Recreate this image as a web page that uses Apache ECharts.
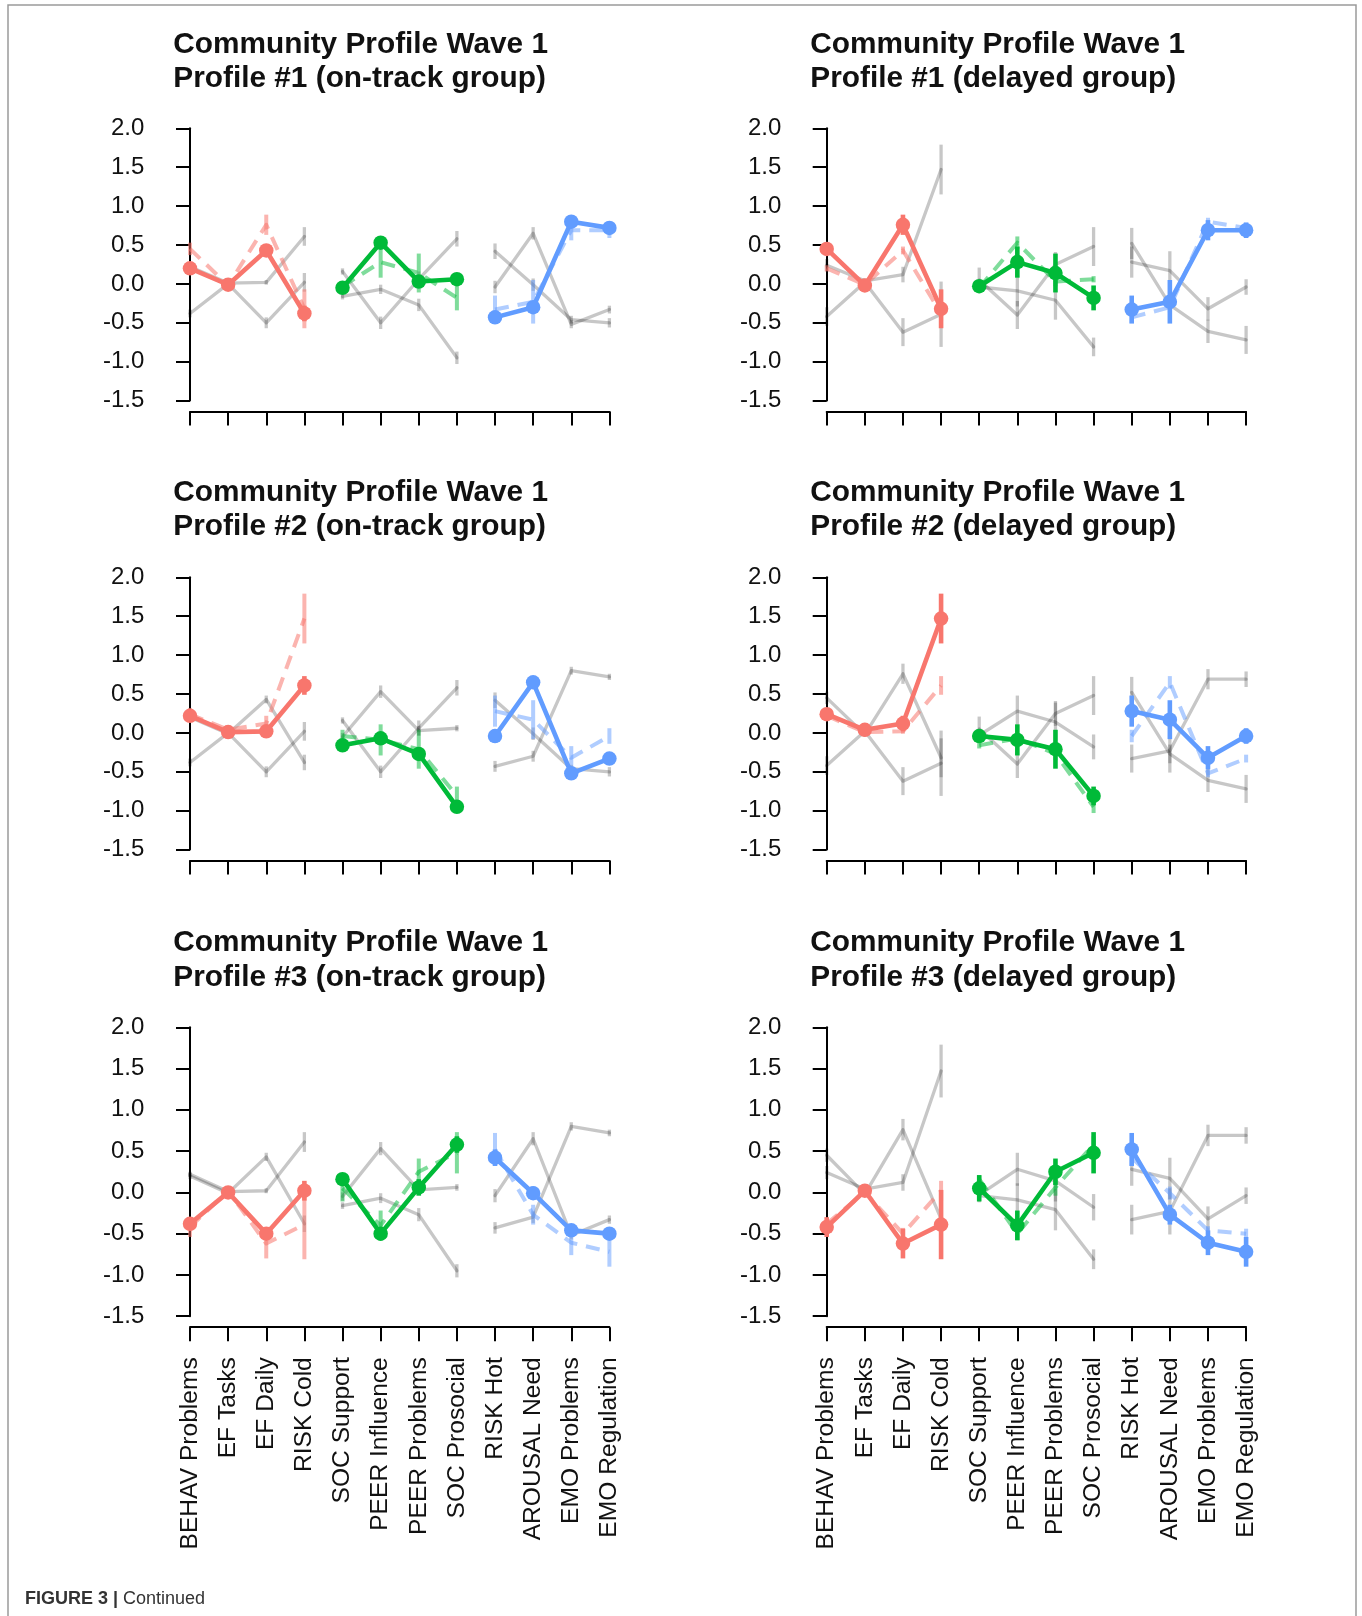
<!DOCTYPE html>
<html>
<head>
<meta charset="utf-8">
<script src="https://cdn.jsdelivr.net/npm/echarts@6/dist/echarts.min.js"></script>
<style>
html,body{margin:0;padding:0;background:#fff;}
#chart{width:1362px;height:1616px;}
</style>
</head>
<body>
<div id="chart"></div>
<script>
// ---------- data ----------
const categories = ['BEHAV Problems','EF Tasks','EF Daily','RISK Cold','SOC Support','PEER Influence','PEER Problems','SOC Prosocial','RISK Hot','AROUSAL Need','EMO Problems','EMO Regulation'];

const yTickMin = -1.5;
const yTickMax = 2.0;
const yTickStep = 0.5;

const panelTitles = [
  'Community Profile Wave 1\nProfile #1 (on-track group)',
  'Community Profile Wave 1\nProfile #1 (delayed group)',
  'Community Profile Wave 1\nProfile #2 (on-track group)',
  'Community Profile Wave 1\nProfile #2 (delayed group)',
  'Community Profile Wave 1\nProfile #3 (on-track group)',
  'Community Profile Wave 1\nProfile #3 (delayed group)'
];

// on-track group profile means and error half-widths
const onTrackP1    = [0.20, -0.01, 0.43, -0.38, -0.05, 0.53, 0.03, 0.06, -0.43, -0.30, 0.80, 0.72];
const onTrackP1Err = [0.04, 0.02, 0.05, 0.10, 0.05, 0.08, 0.06, 0.04, 0.07, 0.07, 0.05, 0.04];
const onTrackP2    = [0.22, 0.01, 0.02, 0.61, -0.16, -0.07, -0.27, -0.95, -0.04, 0.65, -0.52, -0.33];
const onTrackP2Err = [0.03, 0.02, 0.03, 0.12, 0.04, 0.06, 0.08, 0.08, 0.08, 0.08, 0.05, 0.05];
const onTrackP3    = [-0.38, 0.00, -0.50, 0.02, 0.16, -0.50, 0.06, 0.58, 0.42, -0.01, -0.46, -0.50];
const onTrackP3Err = [0.05, 0.02, 0.07, 0.12, 0.04, 0.08, 0.10, 0.10, 0.10, 0.08, 0.05, 0.06];

// delayed group profile means and error half-widths
const delayedP1    = [0.45, -0.02, 0.76, -0.32, -0.03, 0.28, 0.14, -0.18, -0.33, -0.23, 0.69, 0.69];
const delayedP1Err = [0.08, 0.03, 0.13, 0.25, 0.06, 0.20, 0.25, 0.16, 0.18, 0.28, 0.13, 0.10];
const delayedP2    = [0.24, 0.04, 0.12, 1.47, -0.04, -0.09, -0.21, -0.81, 0.28, 0.17, -0.32, -0.04];
const delayedP2Err = [0.08, 0.03, 0.10, 0.32, 0.08, 0.20, 0.25, 0.12, 0.20, 0.25, 0.15, 0.10];
const delayedP3    = [-0.42, 0.02, -0.62, -0.39, 0.05, -0.40, 0.25, 0.48, 0.52, -0.27, -0.61, -0.72];
const delayedP3Err = [0.12, 0.03, 0.18, 0.42, 0.16, 0.18, 0.16, 0.25, 0.20, 0.12, 0.15, 0.18];

// ---------- styles / layout ----------
const domainColors = ['#F8766D', '#00BA38', '#619CFF'];
const domainFaded  = ['rgba(248,118,109,0.55)', 'rgba(0,186,56,0.5)', 'rgba(97,156,255,0.5)'];
const otherColor   = 'rgba(0,0,0,0.22)';
const FONT = '"Liberation Sans", Arial, Helvetica, sans-serif';

const colLeft = [190, 826.7];
const gridW = 419.4;
const rowTop = [128.3, 577.3, 1027.3];
const rowH = [272.3, 272.3, 288.9];
const titleTop = [27.5, 475.5, 926];
const yAxisX = [172.3, 809.3];

const groups = {
  onTrack: [
    {mean: onTrackP1, err: onTrackP1Err},
    {mean: onTrackP2, err: onTrackP2Err},
    {mean: onTrackP3, err: onTrackP3Err}
  ],
  delayed: [
    {mean: delayedP1, err: delayedP1Err},
    {mean: delayedP2, err: delayedP2Err},
    {mean: delayedP3, err: delayedP3Err}
  ]
};
const panels = [['onTrack',0],['delayed',0],['onTrack',1],['delayed',1],['onTrack',2],['delayed',2]];

const grids = [], xAxes = [], yAxes = [], titles = [], series = [];

function lineSeries(k, data, color, width, type, withSymbol, z) {
  return {
    type: 'line', xAxisIndex: k, yAxisIndex: k, data: data, z: z,
    silent: true, clip: false, animation: false,
    symbol: withSymbol ? 'circle' : 'none', symbolSize: 14.5, showSymbol: withSymbol,
    itemStyle: {color: color},
    lineStyle: {color: color, width: width, type: type, cap: type === 'solid' ? 'round' : 'butt', join: 'round'},
    emphasis: {disabled: true}
  };
}
function errSeries(k, items, colors, width, z) {
  return {
    type: 'custom', xAxisIndex: k, yAxisIndex: k, data: items, z: z,
    silent: true, clip: false, animation: false,
    encode: {x: 0, y: [1, 2]},
    renderItem: function (params, api) {
      const x = api.value(0);
      const p1 = api.coord([x, api.value(1)]);
      const p2 = api.coord([x, api.value(2)]);
      const ci = api.value(3);
      return {type: 'line', shape: {x1: p1[0], y1: p1[1], x2: p2[0], y2: p2[1]},
              style: {stroke: ci < 0 ? otherColor : colors[ci], lineWidth: width, lineCap: 'butt'}};
    }
  };
}
function errItems(pr, useDomain) {
  return categories.map((_, i) => [i, pr.mean[i] - pr.err[i], pr.mean[i] + pr.err[i], useDomain ? Math.floor(i / 4) : -1]);
}

panels.forEach(([g, p], k) => {
  const r = Math.floor(k / 2), c = k % 2;
  const bottomRow = r === 2;
  grids.push({left: colLeft[c], top: rowTop[r], width: gridW, height: rowH[r]});
  titles.push({
    text: panelTitles[k], left: yAxisX[c] + 1, top: titleTop[r], padding: 0,
    textStyle: {fontSize: 29.8, fontWeight: 'bold', lineHeight: 34.5, color: '#111', fontFamily: FONT}
  });
  xAxes.push({
    type: 'value', gridIndex: k, min: 0, max: categories.length - 1, interval: 1,
    position: 'bottom', offset: 11,
    axisLine: {show: true, onZero: false, lineStyle: {color: '#000', width: 2}},
    axisTick: {show: true, length: 14, lineStyle: {color: '#000', width: 2}},
    splitLine: {show: false},
    axisLabel: {
      show: bottomRow, rotate: 90, fontSize: 24.6, color: '#111', margin: 30, fontFamily: FONT,
      showMinLabel: true, showMaxLabel: true,
      formatter: v => categories[Math.round(v)]
    }
  });
  yAxes.push({
    type: 'value', gridIndex: k, min: yTickMin, max: yTickMax, interval: yTickStep,
    position: 'left', offset: colLeft[c] - yAxisX[c],
    axisLine: {show: true, lineStyle: {color: '#000', width: 2}},
    axisTick: {show: true, length: 14, lineStyle: {color: '#000', width: 2}},
    splitLine: {show: false},
    axisLabel: {fontSize: 24, color: '#111', margin: 28, fontFamily: FONT,
      showMinLabel: true, showMaxLabel: true, formatter: v => v.toFixed(1)}
  });

  const other = g === 'onTrack' ? 'delayed' : 'onTrack';
  const main = groups[g][p];
  const dashed = groups[other][p];
  const grays = groups[g].filter((_, q) => q !== p);

  // gray profiles (other profiles of the same group)
  grays.forEach(pr => series.push(errSeries(k, errItems(pr, false), domainColors, 3.3, 2)));
  for (let d = 0; d < 3; d++) {
    const idx = [0, 1, 2, 3].map(j => d * 4 + j);
    grays.forEach(pr => series.push(lineSeries(k, idx.map(i => [i, pr.mean[i]]), otherColor, 3.3, 'solid', false, 2)));
  }
  // dashed comparison profile (same profile, other group)
  series.push(errSeries(k, errItems(dashed, true), domainFaded, 4, 3));
  for (let d = 0; d < 3; d++) {
    const idx = [0, 1, 2, 3].map(j => d * 4 + j);
    series.push(lineSeries(k, idx.map(i => [i, dashed.mean[i]]), domainFaded[d], 4, [14, 9], false, 3));
  }
  // main profile
  series.push(errSeries(k, errItems(main, true), domainColors, 4.6, 5));
  for (let d = 0; d < 3; d++) {
    const idx = [0, 1, 2, 3].map(j => d * 4 + j);
    series.push(lineSeries(k, idx.map(i => [i, main.mean[i]]), domainColors[d], 4.6, 'solid', true, 6));
  }
});

const chart = echarts.init(document.getElementById('chart'), null, {renderer: 'canvas'});
chart.setOption({
  animation: false,
  backgroundColor: '#fff',
  title: titles,
  grid: grids,
  xAxis: xAxes,
  yAxis: yAxes,
  series: series,
  graphic: [
    {type: 'rect', silent: true, z: 0,
     shape: {x: 8, y: 5, width: 1348, height: 1700},
     style: {fill: 'none', stroke: '#9a9a9a', lineWidth: 1.5}},
    {type: 'text', silent: true, left: 25, top: 1590,
     style: {text: '{b|FIGURE 3 |} Continued', fontSize: 18, fontFamily: FONT, fill: '#333',
       rich: {b: {fontWeight: 'bold', fontSize: 18, fontFamily: FONT, fill: '#333'}}}}
  ]
});
</script>
</body>
</html>
